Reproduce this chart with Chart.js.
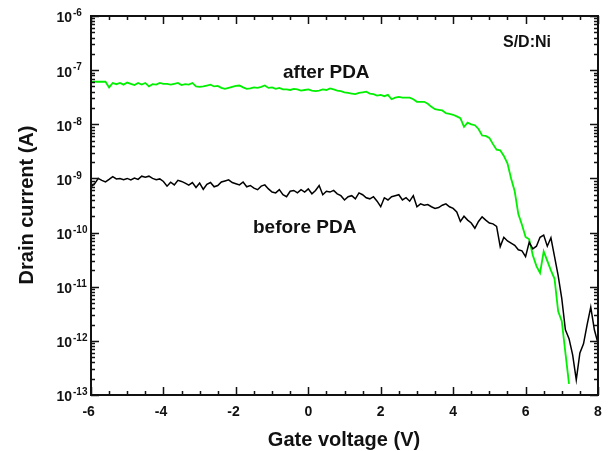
<!DOCTYPE html>
<html><head><meta charset="utf-8">
<script src="https://cdn.jsdelivr.net/npm/chart.js@4"></script>
<style>html,body{margin:0;padding:0;background:#fff}canvas{display:block}</style>
</head><body>
<canvas id="c" width="608" height="451"></canvas>
<script>
// Gate voltage (V)
const voltage = [
-6.0,-5.9,-5.8,-5.7,-5.6,-5.5,-5.4,-5.3,-5.2,-5.1,-5.0,-4.9,-4.8,-4.7,-4.6,-4.5,-4.4,-4.3,-4.2,-4.1,
-4.0,-3.9,-3.8,-3.7,-3.6,-3.5,-3.4,-3.3,-3.2,-3.1,-3.0,-2.9,-2.8,-2.7,-2.6,-2.5,-2.4,-2.3,-2.2,-2.1,
-2.0,-1.9,-1.8,-1.7,-1.6,-1.5,-1.4,-1.3,-1.2,-1.1,-1.0,-0.9,-0.8,-0.7,-0.6,-0.5,-0.4,-0.3,-0.2,-0.1,
0.0,0.1,0.2,0.3,0.4,0.5,0.6,0.7,0.8,0.9,1.0,1.1,1.2,1.3,1.4,1.5,1.6,1.7,1.8,1.9,
2.0,2.1,2.2,2.3,2.4,2.5,2.6,2.7,2.8,2.9,3.0,3.1,3.2,3.3,3.4,3.5,3.6,3.7,3.8,3.9,
4.0,4.1,4.2,4.3,4.4,4.5,4.6,4.7,4.8,4.9,5.0,5.1,5.2,5.3,5.4,5.5,5.6,5.7,5.8,5.9,
6.0,6.1,6.2,6.3,6.4,6.5,6.6,6.7,6.8,6.9,7.0,7.1,7.2,7.3,7.4,7.5,7.6,7.7,7.8,7.9,8.0];

// Drain current (A), before PDA
const beforePDA = [
7.0e-10,8.0e-10,1.0e-9,9.2e-10,8.6e-10,9.6e-10,1.08e-9,9.8e-10,1.0e-9,9.5e-10,
1.0e-9,9.4e-10,1.02e-9,9.6e-10,1.1e-9,1.05e-9,1.1e-9,1.0e-9,9.5e-10,9.8e-10,
8.8e-10,7.2e-10,8.5e-10,7.6e-10,9.2e-10,8.8e-10,8.2e-10,7.5e-10,8.4e-10,6.8e-10,
8.2e-10,6.3e-10,7.8e-10,8.4e-10,7.0e-10,7.4e-10,8.6e-10,9.0e-10,9.4e-10,8.4e-10,
8.0e-10,7.6e-10,8.6e-10,7.0e-10,7.4e-10,6.6e-10,6.2e-10,7.2e-10,7.6e-10,6.4e-10,
5.6e-10,5.4e-10,6.2e-10,5.0e-10,4.6e-10,5.8e-10,6.0e-10,5.4e-10,6.2e-10,5.6e-10,
6.4e-10,5.2e-10,6.0e-10,7.4e-10,5.0e-10,5.8e-10,5.6e-10,6.0e-10,5.2e-10,4.8e-10,
4.0e-10,4.6e-10,4.8e-10,4.2e-10,5.4e-10,5.0e-10,4.4e-10,4.2e-10,4.6e-10,3.8e-10,
3.0e-10,4.4e-10,4.0e-10,4.6e-10,4.8e-10,5.0e-10,4.0e-10,4.4e-10,3.8e-10,4.8e-10,
3.0e-10,3.4e-10,3.2e-10,3.3e-10,3.0e-10,2.8e-10,2.9e-10,3.2e-10,3.4e-10,3.0e-10,
2.8e-10,2.4e-10,1.6e-10,2.0e-10,1.7e-10,1.5e-10,1.2e-10,1.6e-10,1.95e-10,1.7e-10,
1.5e-10,1.45e-10,1.3e-10,5.5e-11,8.2e-11,7.0e-11,6.4e-11,5.8e-11,4.8e-11,4.6e-11,
3.6e-11,6.6e-11,5.0e-11,5.6e-11,8.2e-11,9.0e-11,5.6e-11,8.0e-11,3.6e-11,1.6e-11,
6.0e-12,1.6e-12,1.1e-12,5.5e-13,1.9e-13,6.0e-13,8.8e-13,2.0e-12,4.2e-12,1.6e-12,9.0e-13];

// Drain current (A), after PDA (-6.0 .. 7.2 V)
const afterPDA = [
6.0e-8,6.1e-8,6.1e-8,6.1e-8,6.1e-8,4.8e-8,5.8e-8,5.5e-8,5.8e-8,5.4e-8,
5.9e-8,5.6e-8,5.3e-8,5.8e-8,5.4e-8,5.8e-8,5.0e-8,5.5e-8,5.4e-8,5.8e-8,
5.6e-8,5.6e-8,5.4e-8,5.6e-8,5.8e-8,5.3e-8,5.5e-8,5.4e-8,5.8e-8,5.0e-8,
4.9e-8,5.0e-8,5.2e-8,5.4e-8,5.0e-8,5.1e-8,4.7e-8,4.5e-8,4.7e-8,4.9e-8,
5.1e-8,5.2e-8,4.8e-8,4.5e-8,4.6e-8,4.8e-8,4.7e-8,4.9e-8,5.2e-8,4.7e-8,
4.8e-8,4.5e-8,4.7e-8,4.4e-8,4.4e-8,4.3e-8,4.5e-8,4.4e-8,4.2e-8,4.3e-8,
4.4e-8,4.2e-8,4.1e-8,4.2e-8,4.4e-8,4.3e-8,4.6e-8,4.4e-8,4.2e-8,4.1e-8,
3.9e-8,3.8e-8,3.7e-8,3.6e-8,3.8e-8,3.9e-8,4.0e-8,3.7e-8,3.6e-8,3.4e-8,
3.5e-8,3.3e-8,3.5e-8,2.9e-8,3.1e-8,3.2e-8,3.1e-8,3.1e-8,3.1e-8,2.9e-8,
2.6e-8,2.6e-8,2.6e-8,2.4e-8,2.1e-8,1.9e-8,1.85e-8,1.8e-8,1.6e-8,1.55e-8,
1.5e-8,1.4e-8,1.3e-8,9.0e-9,1.07e-8,1.0e-8,9.6e-9,8.2e-9,6.2e-9,6.1e-9,
5.6e-9,4.3e-9,3.4e-9,3.3e-9,2.6e-9,1.9e-9,1.0e-9,5.8e-10,2.2e-10,1.4e-10,
8.3e-11,7.5e-11,3.8e-11,2.4e-11,1.8e-11,4.5e-11,3.0e-11,2.0e-11,1.4e-11,3.5e-12,
2.3e-12,6.0e-13,1.6e-13];

const xTickLabels = ['-6','-4','-2','0','2','4','6','8'];
const yTickExponents = ['-6','-7','-8','-9','-10','-11','-12','-13'];
const seriesLabels = ['before PDA','after PDA'];

const FONT = '"Liberation Sans", Arial, Helvetica, sans-serif';
const INK = '#111';

const pts = (ys) => ys.map((y, i) => ({x: voltage[i], y: y}));

const decor = {
  id: 'decor',
  afterDraw(chart) {
    const ctx = chart.ctx, a = chart.chartArea;
    const xs = chart.scales.x, ys = chart.scales.y;
    ctx.save();
    ctx.strokeStyle = INK;
    ctx.lineWidth = 2;
    ctx.strokeRect(a.left, a.top, a.right - a.left, a.bottom - a.top);
    ctx.lineWidth = 1.5;
    for (let v = -6; v <= 8.001; v += 0.5) {
      const px = Math.round(xs.getPixelForValue(v)) + 0.5;
      const major = Math.abs(v - Math.round(v)) < 1e-6 && Math.round(v) % 2 === 0;
      const len = major ? 8 : 4;
      ctx.beginPath();
      ctx.moveTo(px, a.bottom); ctx.lineTo(px, a.bottom - len);
      ctx.moveTo(px, a.top); ctx.lineTo(px, a.top + len);
      ctx.stroke();
    }
    for (let e = -13; e <= -6; e++) {
      for (let m = 1; m <= 9; m++) {
        if (e === -6 && m > 1) break;
        const val = m * Math.pow(10, e);
        const py = Math.round(ys.getPixelForValue(val)) + 0.5;
        const len = m === 1 ? 8 : 4;
        ctx.beginPath();
        ctx.moveTo(a.left, py); ctx.lineTo(a.left + len, py);
        ctx.moveTo(a.right, py); ctx.lineTo(a.right - len, py);
        ctx.stroke();
      }
    }
    ctx.fillStyle = INK;
    ctx.font = 'bold 14px ' + FONT;
    ctx.textBaseline = 'middle';
    xTickLabels.forEach((t) => {
      const px = xs.getPixelForValue(parseFloat(t));
      const digits = t.replace('-', '');
      const w = ctx.measureText(digits).width;
      ctx.textAlign = 'right';
      ctx.fillText(t, px + w / 2, 412);
    });
    yTickExponents.forEach((t) => {
      const py = ys.getPixelForValue(Math.pow(10, parseInt(t, 10)));
      ctx.font = 'bold 14px ' + FONT;
      ctx.textAlign = 'right';
      ctx.textBaseline = 'middle';
      ctx.fillText('10', 72, py + 2.5);
      ctx.font = 'bold 10px ' + FONT;
      ctx.textAlign = 'left';
      ctx.fillText(t, 73, py - 2.5);
    });
    ctx.font = 'bold 20px ' + FONT;
    ctx.textAlign = 'center';
    ctx.textBaseline = 'alphabetic';
    ctx.fillText('Gate voltage (V)', (a.left + a.right) / 2 - 0.5, 446);
    ctx.save();
    ctx.translate(33, 205);
    ctx.rotate(-Math.PI / 2);
    ctx.fillText('Drain current (A)', 0, 0);
    ctx.restore();
    ctx.font = 'bold 19px ' + FONT;
    ctx.textAlign = 'left';
    ctx.fillText(seriesLabels[1], 283, 78);
    ctx.fillText(seriesLabels[0], 253, 233);
    ctx.font = 'bold 16px ' + FONT;
    ctx.fillText('S/D:Ni', 503, 47);
    ctx.restore();
  }
};

new Chart(document.getElementById('c'), {
  type: 'line',
  data: {
    datasets: [
      {label: seriesLabels[0], data: pts(beforePDA), borderColor: '#000', borderWidth: 1.5, pointRadius: 0, tension: 0, fill: false},
      {label: seriesLabels[1], data: pts(afterPDA), borderColor: '#00f000', borderWidth: 1.8, pointRadius: 0, tension: 0, fill: false}
    ]
  },
  options: {
    responsive: false,
    devicePixelRatio: 1,
    animation: false,
    layout: {padding: {left: 0, top: 16, right: 10, bottom: 0}},
    plugins: {legend: {display: false}, tooltip: {enabled: false}, title: {display: false}},
    scales: {
      x: {
        type: 'linear', min: -6, max: 8,
        grid: {display: false}, border: {display: false},
        ticks: {display: false},
        afterFit(s) { s.height = 56; }
      },
      y: {
        type: 'logarithmic', min: 1e-13, max: 1e-6,
        grid: {display: false}, border: {display: false},
        ticks: {display: false},
        afterFit(s) { s.width = 91; }
      }
    }
  },
  plugins: [decor]
});
</script>
</body></html>
